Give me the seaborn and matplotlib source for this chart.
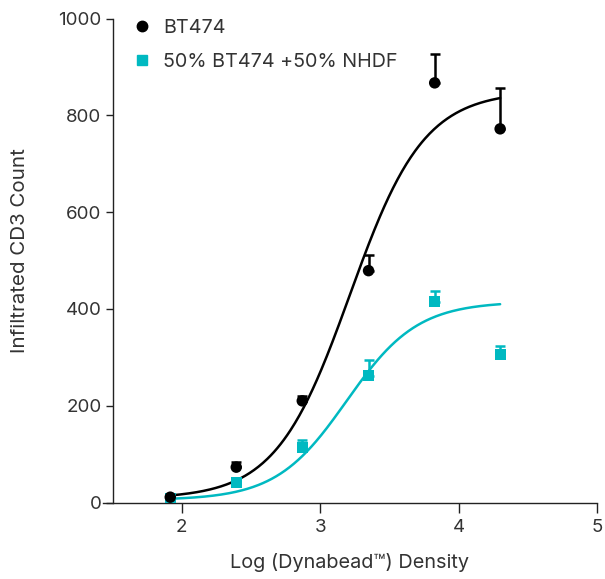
import numpy as np
import pandas as pd
import matplotlib
matplotlib.use("Agg")
import matplotlib.pyplot as plt
import seaborn as sns
from matplotlib.lines import Line2D

# ---- data ----
log_density = [1.916, 2.393, 2.870, 3.349, 3.827, 4.300]
bt474_mean = [11, 73, 210, 479, 867, 772]
bt474_upper = [14, 84, 221, 511, 926, 856]
mix_mean = [8, 42, 114, 262, 415, 306]
mix_upper = [10, 46, 130, 294, 436, 323]
series_names = ["BT474", "50% BT474 +50% NHDF"]
# four-parameter logistic fits: bottom, top, logEC50, hill
bt474_fit = [8, 850, 3.214, 1.62]
mix_fit = [5, 415, 3.191, 1.70]
x_ticks = [2, 3, 4, 5]
y_ticks = [0, 200, 400, 600, 800, 1000]

BLACK = "#000000"
TEAL = "#00B9C1"
TEXT = "#333333"

sns.set_theme(style="ticks")
plt.rcParams["font.family"] = ["Inter", "DejaVu Sans"]

fig = plt.figure(figsize=(6.05, 5.79), dpi=100)
ax = fig.add_axes([103 / 605, 76.5 / 579, 494 / 605, 484 / 579])

def four_pl(x, p):
    b, t, c, h = p
    return b + (t - b) / (1 + 10 ** ((c - x) * h))

xs = np.linspace(log_density[0], log_density[-1], 300)
curves = pd.concat([
    pd.DataFrame({"x": xs, "y": four_pl(xs, mix_fit), "s": series_names[1]}),
    pd.DataFrame({"x": xs, "y": four_pl(xs, bt474_fit), "s": series_names[0]}),
])
sns.lineplot(data=curves, x="x", y="y", hue="s",
             palette={series_names[0]: BLACK, series_names[1]: TEAL},
             linewidth=1.8, legend=False, ax=ax, zorder=2)

pts = pd.DataFrame({
    "x": log_density * 2,
    "y": mix_mean + bt474_mean,
    "s": [series_names[1]] * 6 + [series_names[0]] * 6,
})

# upward-only error bars
for mean, upper, col in [(mix_mean, mix_upper, TEAL), (bt474_mean, bt474_upper, BLACK)]:
    m = np.array(mean); u = np.array(upper)
    ax.errorbar(log_density, m, yerr=[np.zeros_like(m), u - m], fmt="none",
                ecolor=col, elinewidth=1.8, capsize=3.8, capthick=1.8, zorder=3)

sns.scatterplot(data=pts[pts.s == series_names[1]], x="x", y="y", marker="s",
                color=TEAL, s=62, edgecolor="none", ax=ax, zorder=4, legend=False)
sns.scatterplot(data=pts[pts.s == series_names[0]], x="x", y="y", marker="o",
                color=BLACK, s=68, edgecolor="none", ax=ax, zorder=5, legend=False)

ax.set_xlim(1.43, 5.0)
ax.set_ylim(0, 1000)
ax.set_xticks(x_ticks)
ax.set_yticks(y_ticks)
ax.spines["left"].set_position(("data", 1.5))
ax.spines["left"].set_bounds(0, 1000)
for s in ["top", "right"]:
    ax.spines[s].set_visible(False)
for s in ["left", "bottom"]:
    ax.spines[s].set_color("#222222")
    ax.spines[s].set_linewidth(1.0)
ax.tick_params(axis="x", length=7, width=1.0, color="#222222", labelsize=13.5,
               labelcolor=TEXT, pad=5)
ax.tick_params(axis="y", length=5, width=1.0, color="#222222", labelsize=13.5,
               labelcolor=TEXT, pad=3)
ax.set_xlabel("Log (Dynabead™) Density", fontsize=14.3, color=TEXT, labelpad=12)
ax.set_ylabel("Infiltrated CD3 Count", fontsize=14.8, color=TEXT)
ax.yaxis.set_label_coords(-0.15, 0.52)

handles = [
    Line2D([], [], marker="o", color=BLACK, linestyle="none", markersize=7.5),
    Line2D([], [], marker="s", color=TEAL, linestyle="none", markersize=6.8),
]
ax.legend(handles, series_names, loc="upper left", bbox_to_anchor=(0.02, 1.035),
          frameon=False, fontsize=14.2, labelspacing=0.8, handletextpad=0.45,
          handlelength=1.2, labelcolor=TEXT)

fig.savefig("out.png", dpi=100)
